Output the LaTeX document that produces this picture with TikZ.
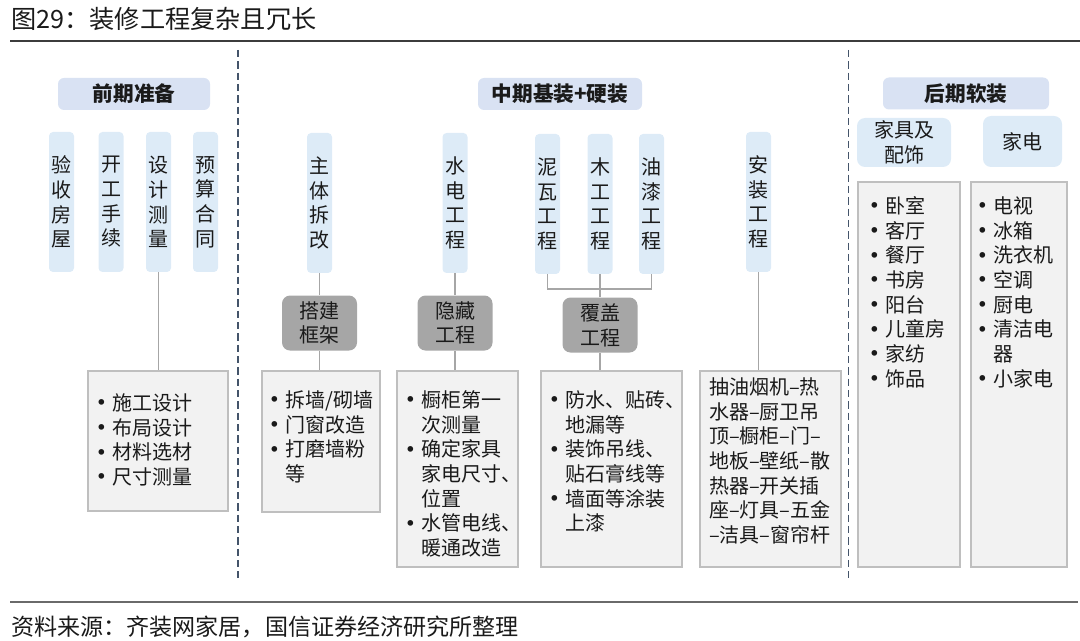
\documentclass[tikz,border=0pt]{standalone}
\usepackage{fontspec}
\setmainfont{Noto Sans CJK SC}
\usetikzlibrary{positioning,calc}
\definecolor{hdr}{HTML}{D9E2F3}
\definecolor{stage}{HTML}{DDEBF7}
\definecolor{phase}{HTML}{A6A6A6}
\definecolor{wirec}{HTML}{A6A6A6}
\definecolor{panel}{HTML}{F2F2F2}
\definecolor{edge}{HTML}{BFBFBF}
\definecolor{divider}{HTML}{44546A}
\definecolor{ink}{HTML}{1A1A1A}
\newcommand\itm{\makebox[9.75pt][l]{\hspace{1.8pt}\makebox[0pt][c]{\raisebox{-1.7pt}{\fontsize{20pt}{0pt}\selectfont •}}}}
\newcommand\ind{\hspace*{9.75pt}}

\begin{document}
\begin{tikzpicture}[x=0.75pt,y=-0.75pt,
  every node/.style={font=\fontsize{15pt}{18.5pt}\selectfont,text=ink,inner sep=0pt},
  hdrbox/.style={rounded corners=4.5pt,fill=hdr,minimum height=24pt,font=\fontsize{15.5pt}{18.5pt}\selectfont\bfseries},
  stagebox/.style={rounded corners=3pt,fill=stage,minimum width=18.75pt,minimum height=105pt,align=center},
  phasebox/.style={rounded corners=6pt,fill=phase,minimum width=56.25pt,minimum height=41.25pt,align=center},
  subbox/.style={rounded corners=6pt,fill=stage,align=center},
  listbox/.style={draw=edge,fill=panel,line width=1.1pt},
  listtext/.style={anchor=base west,align=left},
  wire/.style={draw=wirec,line width=1.1pt},
  sep/.style={draw=divider,line width=1.1pt,dash pattern=on 5.5pt off 3pt}]
\useasboundingbox (0,0) rectangle (1080,641);

\node[anchor=base west,font=\fontsize{18.9pt}{20pt}\selectfont] (title) at (11,29) {图29：装修工程复杂且冗长};
\draw[draw=ink!85,line width=1.1pt] (10,41) -- (1080,41);
\draw[draw=ink!65,line width=1.1pt] (10,602) -- (1078,602);
\node[anchor=base west,font=\fontsize{17.3pt}{20pt}\selectfont] (src) at (11,635) {资料来源：齐装网家居，国信证券经济研究所整理};

\draw[sep] (238,50) -- (238,578);
\draw[sep] (848.5,50) -- (848.5,578);

\node[hdrbox,minimum width=114pt] (h1) at (134,94) {前期准备};
\node[hdrbox,minimum width=123pt] (h2) at (560,94) {中期基装+硬装};
\node[hdrbox,minimum width=124.5pt] (h3) at (966,93.5) {后期软装};

\node[stagebox] (p1) at (61.5,202) {验\\收\\房\\屋};
\node[stagebox] (p2) at (111,202) {开\\工\\手\\续};
\node[stagebox] (p3) at (158.5,202) {设\\计\\测\\量};
\node[stagebox] (p4) at (205.5,202) {预\\算\\合\\同};

\node[stagebox] (v1) at (319.5,203) {主\\体\\拆\\改};
\node[stagebox] (v2) at (455,203) {水\\电\\工\\程};
\node[stagebox] (v3) at (547.5,204) {泥\\瓦\\工\\程};
\node[stagebox] (v4) at (600,204) {木\\工\\工\\程};
\node[stagebox] (v5) at (651.5,204) {油\\漆\\工\\程};
\node[stagebox] (v6) at (758.5,202) {安\\装\\工\\程};

\node[phasebox,below=16.5pt of v1] (g1) {搭建\\框架};
\node[phasebox,below=16.5pt of v2] (g2) {隐藏\\工程};
\node[phasebox,below=17.25pt of v4] (g3) {覆盖\\工程};

\node[subbox,minimum width=70.5pt,minimum height=36.75pt] (s1) at (904,142.5) {家具及\\配饰};
\node[subbox,minimum width=59.25pt,minimum height=38.25pt] (s2) at (1022.5,141.5) {家电};

\node[listbox,minimum width=105pt,minimum height=105pt] (l1) at (158,441) {};
\node[listbox,minimum width=88.5pt,minimum height=105.75pt] (l2) at (321,441.5) {};
\node[listbox,minimum width=90.75pt,minimum height=147pt] (l3) at (457.5,469) {};
\node[listbox,minimum width=105.75pt,minimum height=147pt] (l4) at (611.5,469) {};
\node[listbox,minimum width=105.75pt,minimum height=147pt] (l5) at (770.5,469) {};
\node[listbox,minimum width=76.5pt,minimum height=288.75pt] (l6) at (909,374.5) {};
\node[listbox,minimum width=72pt,minimum height=288.75pt] (l7) at (1019,374.5) {};

\node[listtext] (t1) at (99,484.5) {\itm 施工设计\\\itm 布局设计\\\itm 材料选材\\\itm 尺寸测量};
\node[listtext] (t2) at (272,481.5) {\itm 拆墙/砌墙\\\itm 门窗改造\\\itm 打磨墙粉\\\ind 等};
\node[listtext] (t3) at (408,555.5) {\itm 橱柜第一\\\ind 次测量\\\itm 确定家具\\\ind 家电尺寸、\\\ind 位置\\\itm 水管电线、\\\ind 暖通改造};
\node[listtext] (t4) at (552,530.8) {\itm 防水、贴砖、\\\ind 地漏等\\\itm 装饰吊线、\\\ind 贴石膏线等\\\itm 墙面等涂装\\\ind 上漆};
\node[listtext] (t5) at (709,542.5) {抽油烟机–热\\水器–厨卫吊\\顶–橱柜–门–\\地板–壁纸–散\\热器–开关插\\座–灯具–五金\\–洁具–窗帘杆};
\node[listtext] (t6) at (872,386.2) {\itm 卧室\\\itm 客厅\\\itm 餐厅\\\itm 书房\\\itm 阳台\\\itm 儿童房\\\itm 家纺\\\itm 饰品};
\node[listtext] (t7) at (980,386.2) {\itm 电视\\\itm 冰箱\\\itm 洗衣机\\\itm 空调\\\itm 厨电\\\itm 清洁电\\\ind 器\\\itm 小家电};

\coordinate (j) at (600,289);
\draw[wire] (p3.south) -- (p3.south |- l1.north);
\draw[wire] (v1.south) -- (g1.north);
\draw[wire] (g1.south) -- (g1.south |- l2.north);
\draw[wire] (v2.south) -- (g2.north);
\draw[wire] (g2.south) -- (g2.south |- l3.north);
\draw[wire] (v3.south) |- (j) -| (v5.south);
\draw[wire] (v4.south) -- (g3.north);
\draw[wire] (g3.south) -- (g3.south |- l4.north);
\draw[wire] (v6.south) -- (v6.south |- l5.north);
\end{tikzpicture}
\end{document}
